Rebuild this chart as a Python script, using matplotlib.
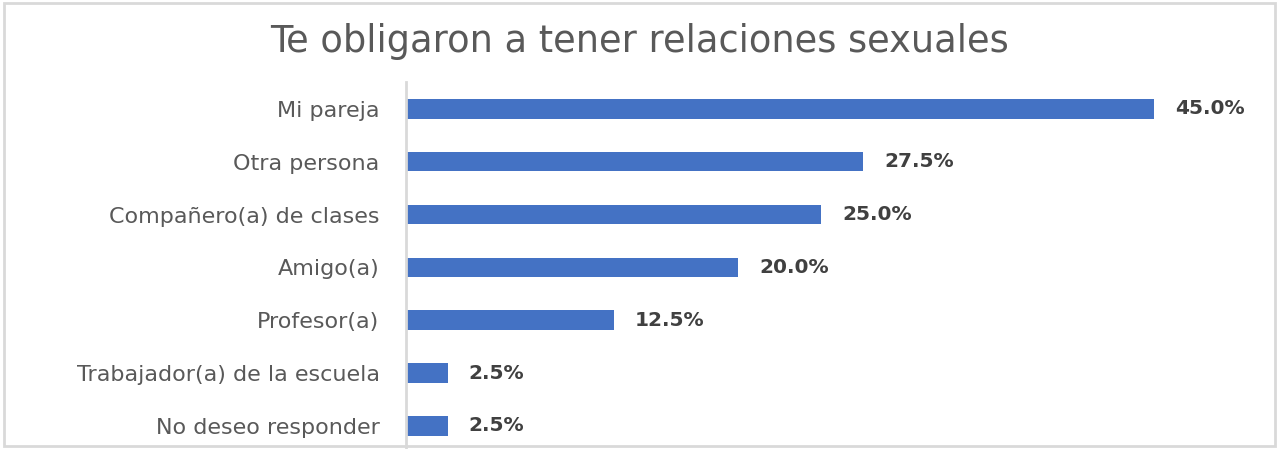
import matplotlib
matplotlib.use('Agg')
import matplotlib.pyplot as plt
from matplotlib.patches import Rectangle

# Data
categories = ['Mi pareja', 'Otra persona', 'Compañero(a) de clases', 'Amigo(a)',
              'Profesor(a)', 'Trabajador(a) de la escuela', 'No deseo responder']
values = [45.0, 27.5, 25.0, 20.0, 12.5, 2.5, 2.5]
title = 'Te obligaron a tener relaciones sexuales'

W, H = 1278, 449
fig = plt.figure(figsize=(W / 100, H / 100), dpi=100)

# outer chart border
fig.patches.append(Rectangle((4 / W, 3 / H), (1271 / W), (443 / H), transform=fig.transFigure,
                             fill=False, edgecolor='#D9D9D9', linewidth=2))

ax = fig.add_axes([406 / W, -3.4 / H, 831 / W, 370 / H])
y = list(range(len(categories)))
ax.barh(y, values, height=0.37, color='#4472C4')
ax.set_xlim(0, 50)
ax.set_ylim(len(categories) - 0.5, -0.5)

ax.set_yticks(y)
ax.set_yticklabels(categories, fontsize=16, color='#595959', family='DejaVu Sans')
ax.tick_params(axis='y', length=0, pad=19)
ax.set_xticks([])

for s in ['top', 'right', 'bottom']:
    ax.spines[s].set_visible(False)
ax.spines['left'].set_color('#D9D9D9')
ax.spines['left'].set_linewidth(2)

for yi, v in zip(y, values):
    ax.annotate(f'{v:.1f}%', (v, yi), xytext=(21, 0), textcoords='offset pixels',
                va='center', ha='left', fontsize=14.5, fontweight='bold', color='#404040',
                family='DejaVu Sans')

fig.text(0.5, 1 - 41 / H, title, ha='center', va='center', fontsize=26.5,
         color='#595959', family='DejaVu Sans')

fig.savefig('out.png', dpi=100)
